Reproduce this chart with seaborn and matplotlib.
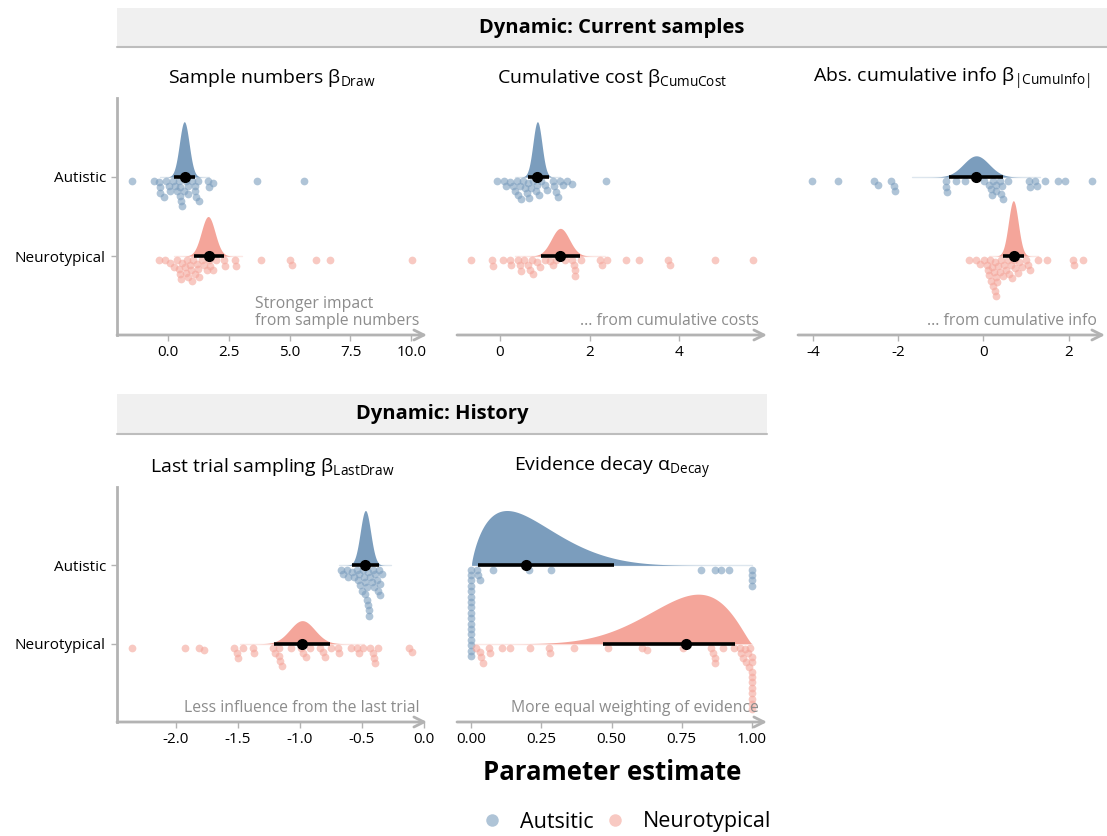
import math
import numpy as np
import matplotlib
matplotlib.use("Agg")
import matplotlib.pyplot as plt
from matplotlib.patches import Rectangle
from matplotlib.lines import Line2D
import seaborn as sns

# ---- data ----
groups = ["Autistic", "Neurotypical"]
legend_labels = ["Autsitic", "Neurotypical"]

# participant estimates (dots)
draw_aut = [-1.46, -0.57, -0.35, -0.33, -0.3, -0.16, -0.05, 0.04, 0.08, 0.2, 0.3, 0.38, 0.45,
            0.5, 0.52, 0.55, 0.58, 0.66, 0.75, 0.82, 0.85, 1.0, 1.1, 1.12, 1.15, 1.23, 1.3,
            1.64, 1.68, 1.85, 3.67, 5.61]
draw_nt = [-0.35, -0.1, 0.1, 0.25, 0.4, 0.45, 0.5, 0.55, 0.6, 0.7, 0.75, 0.8, 0.85, 0.9, 0.95,
           1.0, 1.05, 1.1, 1.2, 1.25, 1.3, 1.4, 1.5, 1.6, 1.7, 1.75, 1.85, 2.0, 2.3, 2.35,
           2.75, 2.8, 3.83, 5.0, 5.1, 6.1, 6.65, 10.03]
cost_aut = [-0.05, 0.1, 0.15, 0.22, 0.3, 0.33, 0.38, 0.41, 0.45, 0.48, 0.52, 0.56, 0.6, 0.63,
            0.66, 0.7, 0.74, 0.8, 0.83, 0.88, 0.92, 1.0, 1.05, 1.19, 1.22, 1.25, 1.3, 1.34,
            1.42, 1.5, 1.6, 2.36]
cost_nt = [-0.63, -0.16, -0.15, 0.07, 0.22, 0.26, 0.41, 0.45, 0.48, 0.55, 0.62, 0.67, 0.71,
           0.74, 0.82, 0.89, 1.0, 1.12, 1.19, 1.26, 1.45, 1.6, 1.66, 1.67, 1.68, 1.82, 2.23,
           2.27, 2.39, 2.81, 3.11, 3.75, 3.78, 4.8, 5.64]
info_aut = [-4.02, -3.41, -2.57, -2.48, -2.16, -2.1, -2.08, -0.88, -0.87, -0.86, -0.64, -0.43,
            0.02, 0.12, 0.18, 0.2, 0.22, 0.3, 0.3, 0.38, 0.4, 0.43, 0.45, 0.57, 1.06, 1.08,
            1.2, 1.25, 1.45, 1.74, 1.92, 2.55]
info_nt = [-0.33, -0.17, -0.08, 0.02, 0.08, 0.1, 0.14, 0.16, 0.18, 0.2, 0.22, 0.24, 0.26, 0.28,
           0.3, 0.3, 0.32, 0.35, 0.38, 0.42, 0.45, 0.49, 0.52, 0.58, 0.61, 0.65, 0.68, 0.72,
           0.75, 0.8, 0.84, 0.9, 1.0, 1.05, 1.1, 1.27, 1.48, 2.09, 2.12, 2.33]
last_aut = [-0.67, -0.65, -0.62, -0.61, -0.58, -0.56, -0.54, -0.53, -0.52, -0.51, -0.5, -0.49,
            -0.48, -0.47, -0.47, -0.46, -0.46, -0.45, -0.45, -0.44, -0.44, -0.43, -0.42, -0.41,
            -0.4, -0.39, -0.38, -0.37, -0.36, -0.35, -0.35, -0.34]
last_nt = [-2.355, -1.925, -1.81, -1.77, -1.53, -1.51, -1.5, -1.46, -1.38, -1.37, -1.22, -1.2,
           -1.17, -1.165, -1.16, -1.14, -1.07, -0.99, -0.975, -0.95, -0.915, -0.84, -0.81,
           -0.8, -0.75, -0.69, -0.68, -0.59, -0.54, -0.525, -0.49, -0.43, -0.41, -0.4, -0.39,
           -0.37, -0.12, -0.094]
decay_aut = [0.0] * 17 + [0.02, 0.025, 0.03, 0.077, 0.205, 0.283, 0.82, 0.87, 0.89, 0.92,
                          1.0, 1.0, 1.0, 1.0]
decay_nt = [0.018, 0.03, 0.035, 0.04, 0.063, 0.065, 0.11, 0.137, 0.21, 0.277, 0.28, 0.365,
            0.486, 0.61, 0.627, 0.754, 0.853, 0.86, 0.869, 0.87, 0.896, 0.935, 0.956, 0.96,
            0.97, 0.975, 0.98, 0.985, 0.99, 0.995] + [1.0] * 10

# group-level posteriors: (location, scale) per group, or beta (a, b)
draw_post = [(0.68, 0.20), (1.66, 0.28)]
cost_post = [(0.84, 0.10), (1.35, 0.20)]
info_post = [(-0.17, 0.30), (0.70, 0.115)]
last_post = [(-0.47, 0.042), (-0.98, 0.10)]
decay_post = [(1.8, 6.5), (6.5, 2.3)]

# 95% interval (low, median, high)
draw_iv = [(0.25, 0.70, 1.14), (1.07, 1.68, 2.30)]
cost_iv = [(0.62, 0.84, 1.09), (0.91, 1.35, 1.78)]
info_iv = [(-0.81, -0.17, 0.45), (0.45, 0.72, 0.96)]
last_iv = [(-0.58, -0.47, -0.36), (-1.21, -0.98, -0.76)]
decay_iv = [(0.024, 0.194, 0.51), (0.47, 0.764, 0.94)]

# ---- style ----
sns.set_theme(style="white")
plt.rcParams["font.family"] = ["Open Sans", "DejaVu Sans"]
plt.rcParams["mathtext.fontset"] = "custom"
plt.rcParams["mathtext.rm"] = "Open Sans"
plt.rcParams["mathtext.it"] = "Open Sans:italic"
plt.rcParams["mathtext.bf"] = "Open Sans:bold"
plt.rcParams["axes.unicode_minus"] = False
plt.rcParams["text.color"] = "black"
plt.rcParams["axes.titlecolor"] = "black"

dens_col = ["#7b9dbd", "#f4a59a"]
dot_col = ["#7b9dbd", "#f4a59a"]
axis_grey = "#b3b3b3"
note_grey = "#8c8c8c"

W, H = 1107, 836
fig = plt.figure(figsize=(W / 100, H / 100), dpi=100)


def add_ax(x0, x1, y0, y1):
    return fig.add_axes([x0 / W, 1 - y1 / H, (x1 - x0) / W, (y1 - y0) / H])


def norm_pdf(x, mu, sd):
    return np.exp(-0.5 * ((x - mu) / sd) ** 2) / (sd * math.sqrt(2 * math.pi))


def beta_pdf(x, a, b):
    lb = math.lgamma(a) + math.lgamma(b) - math.lgamma(a + b)
    return np.exp((a - 1) * np.log(x) + (b - 1) * np.log(1 - x) - lb)


def stack_down(xpx, sep):
    # one-sided beeswarm: push each dot downward until it clears the others
    order = np.argsort(xpx, kind="stable")
    placed = []
    off = np.zeros(len(xpx))
    for i in order:
        x = xpx[i]
        cands = [0.0]
        for px, py in placed:
            dx = abs(x - px)
            if dx < sep:
                cands.append(py + math.sqrt(sep ** 2 - dx ** 2))
        for c in sorted(cands):
            ok = all((x - px) ** 2 + (c - py) ** 2 >= sep ** 2 - 1e-6 for px, py in placed)
            if ok:
                off[i] = c
                placed.append((x, c))
                break
    return off


panels = [
    dict(box=(117, 427, 98, 335), xlim=(-2.08, 10.64), ticks=[0, 2.5, 5, 7.5, 10],
         labels=["0.0", "2.5", "5.0", "7.5", "10.0"],
         title="Sample numbers β$_{\\mathrm{Draw}}$",
         note="Stronger impact\nfrom sample numbers", dots=[draw_aut, draw_nt],
         post=draw_post, kind="norm", iv=draw_iv, ylab=True),
    dict(box=(457, 767, 98, 335), xlim=(-0.95, 5.95), ticks=[0, 2, 4],
         labels=["0", "2", "4"], title="Cumulative cost β$_{\\mathrm{CumuCost}}$",
         note="... from cumulative costs", dots=[cost_aut, cost_nt],
         post=cost_post, kind="norm", iv=cost_iv, ylab=False),
    dict(box=(798, 1105, 98, 335), xlim=(-4.35, 2.85), ticks=[-4, -2, 0, 2],
         labels=["-4", "-2", "0", "2"],
         title="Abs. cumulative info β$_{|\\mathrm{CumuInfo}|}$",
         note="... from cumulative info", dots=[info_aut, info_nt],
         post=info_post, kind="norm", iv=info_iv, ylab=False),
    dict(box=(117, 427, 487, 722), xlim=(-2.476, 0.027), ticks=[-2, -1.5, -1, -0.5, 0],
         labels=["-2.0", "-1.5", "-1.0", "-0.5", "0.0"],
         title="Last trial sampling β$_{\\mathrm{LastDraw}}$",
         note="Less influence from the last trial", dots=[last_aut, last_nt],
         post=last_post, kind="norm", iv=last_iv, ylab=True),
    dict(box=(457, 767, 487, 722), xlim=(-0.051, 1.054), ticks=[0, 0.25, 0.5, 0.75, 1],
         labels=["0.00", "0.25", "0.50", "0.75", "1.00"],
         title="Evidence decay α$_{\\mathrm{Decay}}$",
         note="More equal weighting of evidence", dots=[decay_aut, decay_nt],
         post=decay_post, kind="beta", iv=decay_iv, ylab=False),
]

ypos = [2, 1]  # Autistic above Neurotypical
dot_d = 7.5     # dot diameter, px

for p in panels:
    x0, x1, y0, y1 = p["box"]
    ax = add_ax(x0, x1, y0, y1)
    ax.set_xlim(*p["xlim"])
    ax.set_ylim(0, 3)
    wpx, hpx = x1 - x0, y1 - y0
    xs_per_px = (p["xlim"][1] - p["xlim"][0]) / wpx
    ys_per_px = 3 / hpx

    # densities
    curves = []
    for g in range(2):
        a, b = p["post"][g]
        if p["kind"] == "norm":
            xx = np.linspace(a - 5 * b, a + 5 * b, 400)
            yy = norm_pdf(xx, a, b)
        else:
            xx = np.linspace(0.001, 0.999, 400)
            yy = beta_pdf(xx, a, b)
        curves.append((xx, yy))
    top = max(c[1].max() for c in curves)
    for g in range(2):
        xx, yy = curves[g]
        ax.fill_between(xx, ypos[g], ypos[g] + 0.7 * yy / top, color=dens_col[g], lw=0, zorder=2)
        ax.plot([xx[0], xx[-1]], [ypos[g], ypos[g]], color=dens_col[g], alpha=0.25, lw=1, zorder=2)

    # dots stacked below the baseline
    for g in range(2):
        vals = np.asarray(p["dots"][g], dtype=float)
        off = stack_down(vals / xs_per_px, 0.72 * dot_d)
        yv = ypos[g] - (dot_d / 2 + 0.5 + off) * ys_per_px
        sns.scatterplot(x=vals, y=yv, color=dot_col[g], alpha=0.6, s=31, linewidth=0,
                        ax=ax, legend=False, zorder=3)

    # interval + median
    for g in range(2):
        lo, med, hi = p["iv"][g]
        ax.plot([lo, hi], [ypos[g], ypos[g]], color="black", lw=2.6, solid_capstyle="butt",
                zorder=4)
        ax.plot([med], [ypos[g]], "o", color="black", markersize=7, zorder=5)

    # axes
    sns.despine(ax=ax, top=True, right=True, bottom=True, left=not p["ylab"])
    if p["ylab"]:
        ax.spines["left"].set_color(axis_grey)
        ax.spines["left"].set_linewidth(2)
        ax.set_yticks(ypos)
        ax.set_yticklabels(groups)
        ax.tick_params(axis="y", left=True, length=4, width=1, color=axis_grey,
                       labelsize=11, pad=4, labelcolor="black")
    else:
        ax.set_yticks([])
    ax.set_xticks(p["ticks"])
    ax.set_xticklabels(p["labels"])
    ax.tick_params(axis="x", bottom=True, length=4, width=1, color=axis_grey,
                   labelsize=11, pad=3, labelcolor="black")
    ax.annotate("", xy=(1.0, 0), xytext=(0, 0), xycoords="axes fraction",
                arrowprops=dict(arrowstyle="->", color=axis_grey, lw=2, mutation_scale=18,
                                shrinkA=0, shrinkB=0), annotation_clip=False)
    ax.text(0.975, 0.025, p["note"], transform=ax.transAxes, ha="right", va="bottom",
            multialignment="left", fontsize=11.3, color=note_grey, linespacing=1.1)
    ax.set_title(p["title"], fontsize=14, pad=11, color="black")

# facet strips
for sx0, sx1, sy0, sy1, label in [(117, 1107, 8, 47, "Dynamic: Current samples"),
                                  (117, 767, 394, 434, "Dynamic: History")]:
    fig.patches.append(Rectangle((sx0 / W, 1 - sy1 / H), (sx1 - sx0) / W, (sy1 - sy0) / H,
                                 transform=fig.transFigure, facecolor="#f0f0f0",
                                 edgecolor="none", zorder=0))
    fig.lines.append(Line2D([sx0 / W, sx1 / W], [1 - sy1 / H, 1 - sy1 / H],
                            transform=fig.transFigure, color="#bdbdbd", lw=1.5))
    fig.text((sx0 + sx1) / 2 / W, 1 - (sy0 + sy1) / 2 / H, label, ha="center", va="center",
             fontsize=14.5, fontweight="bold", color="black")

fig.text(612 / W, 1 - 772 / H, "Parameter estimate", ha="center", va="center",
         fontsize=18.5, fontweight="bold", color="black")

handles = [Line2D([], [], marker="o", ls="", color=dot_col[g], alpha=0.6, markersize=9,
                  markeredgewidth=0)
           for g in range(2)]
fig.legend(handles, legend_labels, loc="center", bbox_to_anchor=(626 / W, 1 - 822 / H),
           ncol=2, frameon=False, fontsize=15.5, handlelength=1.0, handletextpad=0.8,
           columnspacing=0.5)

fig.savefig("out.png", dpi=100)
